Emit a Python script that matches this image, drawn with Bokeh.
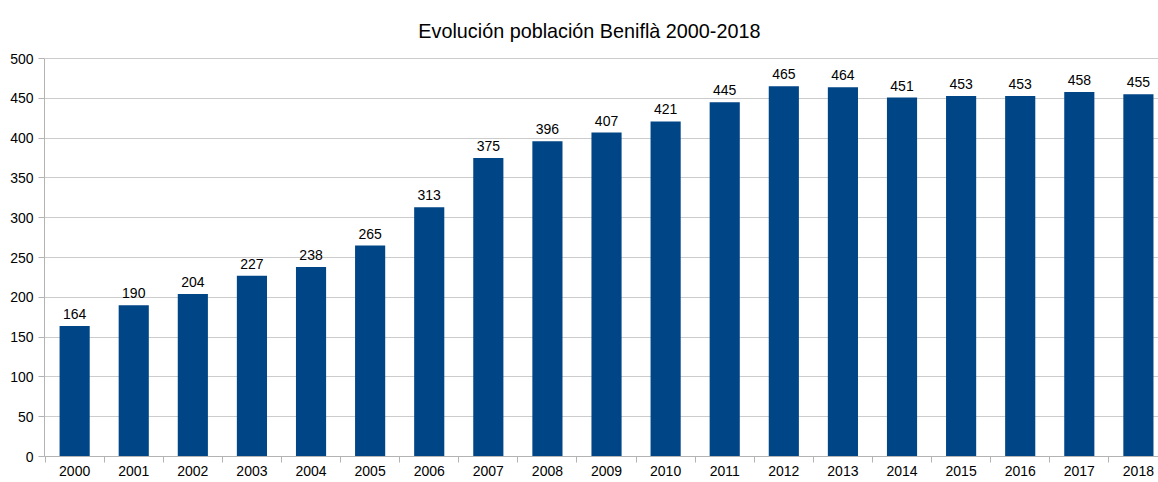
from bokeh.plotting import figure
from bokeh.models import ColumnDataSource, Range1d, FixedTicker, Label
from bokeh.embed import file_html
from bokeh.resources import INLINE

years = list(range(2000, 2019))
population = [164, 190, 204, 227, 238, 265, 313, 375, 396, 407, 421, 445, 465, 464, 451, 453, 453, 458, 455]
labels = [str(v) for v in population]
y_ticks = list(range(0, 501, 50))
title_text = "Evolución población Beniflà 2000-2018"

src = ColumnDataSource(dict(x=years, y=population, lab=labels))

FONT = "Liberation Sans"
Y_MAX = 500
PLOT_H = 398          # pixel height of the 0..500 band
TOP_SPACE = 58        # room above it for the title
y_top = Y_MAX * (PLOT_H + TOP_SPACE) / PLOT_H

p = figure(
    width=1158, height=482,
    frame_width=1114, frame_height=PLOT_H + TOP_SPACE,
    x_range=Range1d(1999.49, 2018.34), y_range=Range1d(0, y_top),
    output_backend="svg", toolbar_location=None,
    min_border_left=44, min_border_right=0, min_border_top=0, min_border_bottom=26,
)
p.outline_line_color = None
p.background_fill_color = "white"
p.border_fill_color = "white"

p.add_layout(Label(x=2008.71, y=Y_MAX, y_offset=28, text=title_text,
                   text_align="center", text_baseline="alphabetic",
                   text_font=FONT, text_font_size="19.8px", text_color="#000000"))

p.vbar(x="x", top="y", width=0.51, source=src, color="#004586", line_color=None)
p.text(x="x", y="y", text="lab", source=src, text_align="center",
       text_baseline="alphabetic", y_offset=-12, text_font_size="14px",
       text_font={"value": FONT}, text_color="#000000")

p.xgrid.grid_line_color = None
p.ygrid.grid_line_color = "#cccccc"
p.ygrid.ticker = FixedTicker(ticks=y_ticks)

p.yaxis.ticker = FixedTicker(ticks=y_ticks)
p.yaxis.bounds = (0, Y_MAX)
p.yaxis.axis_line_color = "#b3b3b3"
p.yaxis.major_tick_line_color = "#b3b3b3"
p.yaxis.major_tick_out = 6
p.yaxis.major_tick_in = 0
p.yaxis.minor_tick_line_color = None
p.yaxis.major_label_standoff = 5
p.yaxis.major_label_text_font = FONT
p.yaxis.major_label_text_font_size = "14px"
p.yaxis.major_label_text_color = "#000000"

boundaries = [y - 0.5 for y in years] + [years[-1] + 0.5]
p.xaxis.ticker = FixedTicker(ticks=years, minor_ticks=boundaries)
p.xaxis.axis_line_color = "#b3b3b3"
p.xaxis.major_tick_line_color = None
p.xaxis.minor_tick_line_color = "#b3b3b3"
p.xaxis.minor_tick_out = 6
p.xaxis.minor_tick_in = 0
p.xaxis.major_label_standoff = 3
p.xaxis.major_label_text_font = FONT
p.xaxis.major_label_text_font_size = "14px"
p.xaxis.major_label_text_line_height = 1.0
p.xaxis.major_label_text_color = "#000000"

open("out.html", "w").write(file_html(p, INLINE))
